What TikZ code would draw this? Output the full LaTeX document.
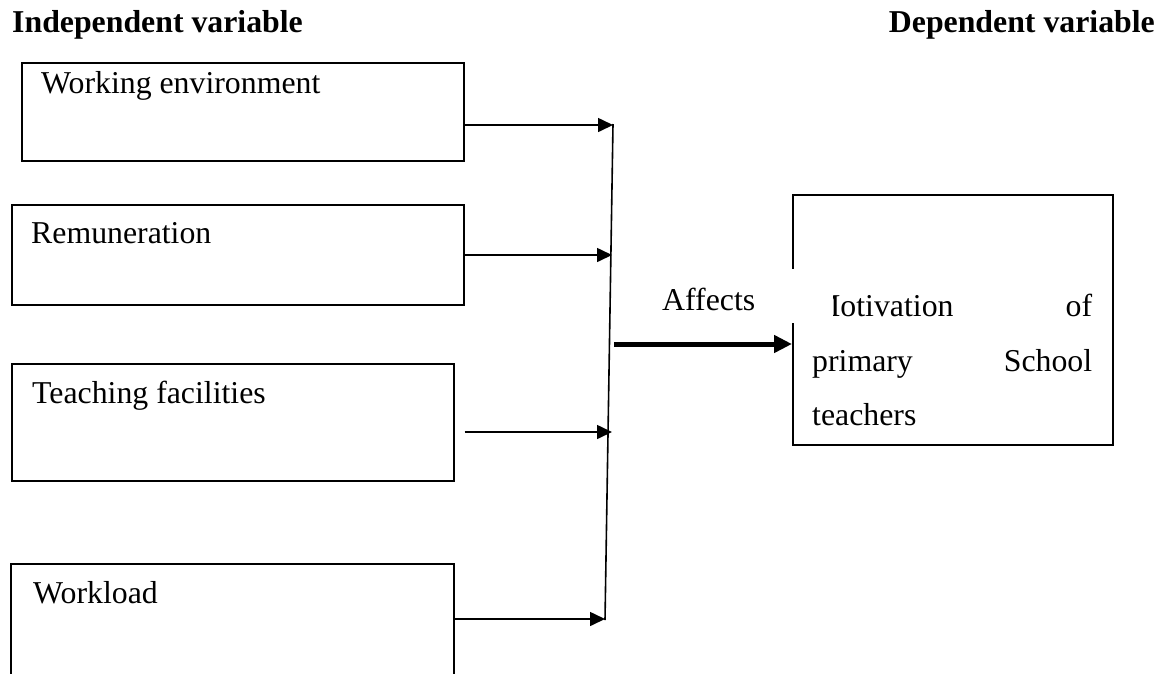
\documentclass[tikz,border=0pt]{standalone}
\usepackage{fontspec}
\setmainfont{Liberation Serif}
\usetikzlibrary{arrows.meta}
\begin{document}
\begin{tikzpicture}[x=1pt,y=-1pt,
  box/.style={draw, line width=1.6pt, inner sep=0pt, anchor=north west},
  lbl/.style={inner sep=0pt, anchor=base west, font=\fontsize{31.8pt}{38pt}\selectfont},
  ttl/.style={inner sep=0pt, font=\bfseries\fontsize{31.8pt}{38pt}\selectfont},
  thinarrow/.style={line width=1.6pt, -{Triangle[length=15pt,width=14pt]}},
  thickarrow/.style={line width=5pt, -{Triangle[length=18pt,width=17pt]}},
  joinline/.style={line width=1.6pt}]
\useasboundingbox (0,0) rectangle (1159,673);
\clip (0,0) rectangle (1159,673);
% titles
\node[ttl, anchor=base west] (tind) at (12,32) {Independent variable};
\node[ttl, anchor=base east] (tdep) at (1155,32) {Dependent variable};
% independent boxes
\node[box, minimum width=442pt, minimum height=98pt] (b1) at (21,62) {};
\node[lbl] (l1) at (41,93) {Working environment};
\node[box, minimum width=452pt, minimum height=100pt] (b2) at (11,204) {};
\node[lbl] (l2) at (31,243) {Remuneration};
\node[box, minimum width=442pt, minimum height=117pt] (b3) at (11,363) {};
\node[lbl] (l3) at (32,403) {Teaching facilities};
\node[box, minimum width=443pt, minimum height=140pt] (b4) at (10,563) {};
\node[lbl] (l4) at (33,603) {Workload};
% joining line
\coordinate (vt) at (613,124);
\coordinate (vb) at (605,620);
\coordinate (j1) at (613,125);
\coordinate (j2) at (612,255);
\coordinate (j3) at (612,432);
\coordinate (j4) at (605,619);
\draw[joinline] (vt) -- (vb);
\draw[thinarrow] (b1.east |- j1) -- (j1);
\draw[thinarrow] (b2.east |- j2) -- (j2);
\draw[thinarrow] ([xshift=10pt]b3.east |- j3) -- (j3);
\draw[thinarrow] (b4.east |- j4) -- (j4);
% dependent box
\node[box, minimum width=320pt, minimum height=250pt] (dep) at (792,194) {};
\node[lbl] (d1) at (812,316) {\hbox to 280pt{Motivation\hfill of}};
\node[lbl] (d2) at (812,371) {\hbox to 280pt{primary\hfill School}};
\node[lbl] (d3) at (812,425) {teachers};
% affects
\coordinate (t0) at (614,344);
\draw[thickarrow] (t0) -- (dep.west |- t0);
\node[lbl, fill=white, text height=41pt, text depth=13pt, text width=171pt, align=left] (aff) at (662,310) {Affects};
\end{tikzpicture}
\end{document}
